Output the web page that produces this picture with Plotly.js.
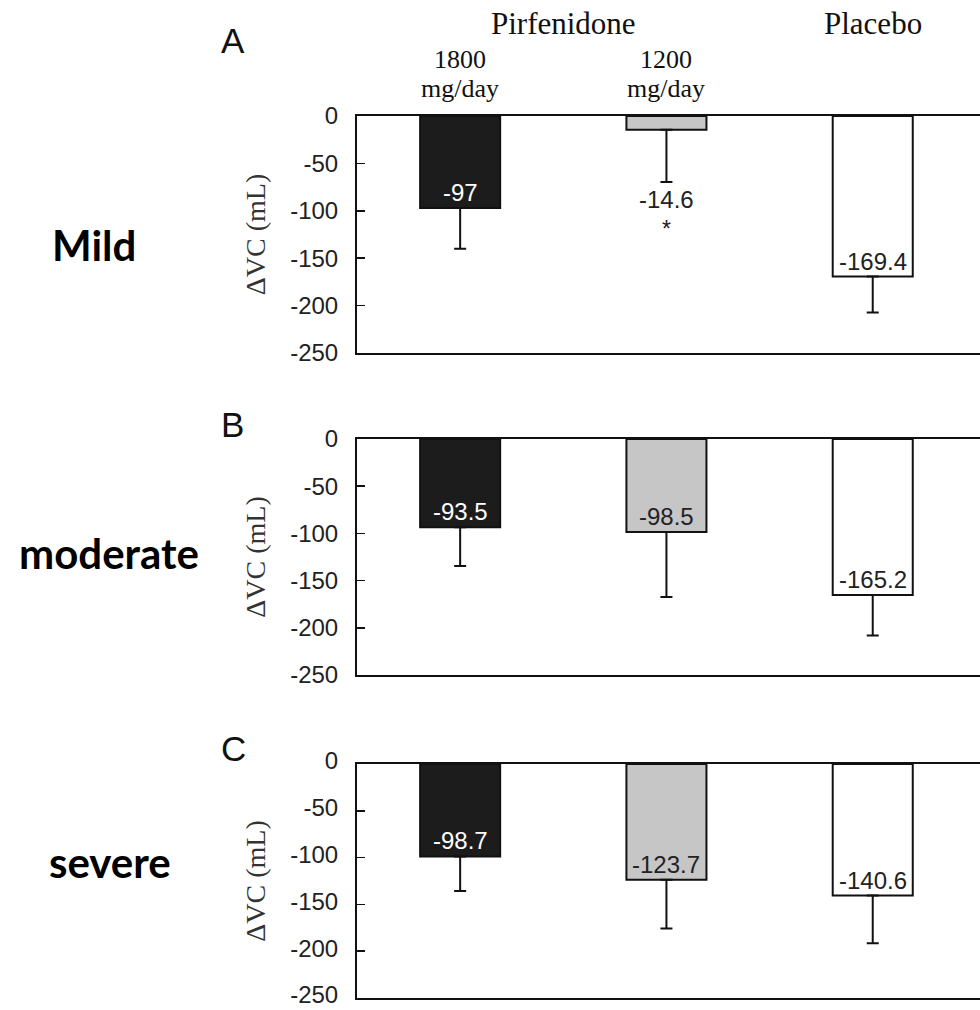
<!DOCTYPE html>
<html>
<head>
<meta charset="utf-8">
<script src="https://cdn.plot.ly/plotly-3.0.1.min.js"></script>
<style>html,body{margin:0;padding:0;background:#fff;}#chart{width:980px;height:1010px;}</style>
</head>
<body>
<div id="chart"></div>
<script>
// ---- data ----
var categories = ['1800 mg/day', '1200 mg/day', 'Placebo'];
var panelLetters = ['A', 'B', 'C'];
var rowLabels = ['Mild', 'moderate', 'severe'];
var mildValues = [-97, -14.6, -169.4];
var mildErrors = [43, 55, 38];
var moderateValues = [-93.5, -98.5, -165.2];
var moderateErrors = [41, 69, 43];
var severeValues = [-98.7, -123.7, -140.6];
var severeErrors = [37, 52, 51];
var valueLabels = [
  ['-97', '-14.6', '-169.4'],
  ['-93.5', '-98.5', '-165.2'],
  ['-98.7', '-123.7', '-140.6']
];
var yTickVals = [0, -50, -100, -150, -200, -250];
var yTickText = ['0', '-50', '-100', '-150', '-200', '-250'];
var headerGroup = 'Pirfenidone';
var headerPlacebo = 'Placebo';
var doseLines = [['1800', 'mg/day'], ['1200', 'mg/day']];
var significanceMark = '*';

// ---- styling ----
var barColors = ['#1c1c1c', '#c6c6c6', '#ffffff'];
var labelColors = ['#ffffff', '#222222', '#222222'];
var sans = 'Liberation Sans, Arial, sans-serif';
var serif = 'Liberation Serif, Times New Roman, serif';

var allValues = [mildValues, moderateValues, severeValues];
var allErrors = [mildErrors, moderateErrors, severeErrors];

var W = 980, H = 1010;
var mL = 357, mR = 0, mT = 116, mB = 12;
var plotH = H - mT - mB;
function py(px) { return (H - mB - px) / plotH; }
function px2x(px) { return (px - mL) / (W - mL - mR); }
var domains = [[py(353), 1], [py(675), py(439)], [py(998), py(764)]];
var labelShift = [0, 0, -3];

var traces = [];
var layout = {
  width: W, height: H,
  margin: {l: mL, r: mR, t: mT, b: mB},
  paper_bgcolor: '#ffffff', plot_bgcolor: '#ffffff',
  showlegend: false,
  font: {family: sans, color: '#222'},
  annotations: []
};

for (var p = 0; p < 3; p++) {
  var sfx = p === 0 ? '' : String(p + 1);
  traces.push({
    type: 'bar',
    x: categories,
    y: allValues[p],
    xaxis: 'x' + sfx, yaxis: 'y' + sfx,
    width: 0.388,
    marker: {color: barColors, line: {color: '#111', width: 2}},
    error_y: {type: 'data', symmetric: false, array: [0, 0, 0], arrayminus: allErrors[p],
              color: '#111', thickness: 2, width: 6},
    hoverinfo: 'x+y'
  });
  layout['xaxis' + sfx] = {
    type: 'category', range: [-0.5, 2.52], anchor: 'y' + sfx,
    showline: true, mirror: true, linecolor: '#111', linewidth: 2,
    showticklabels: false, ticks: '', showgrid: false, zeroline: false, fixedrange: true
  };
  layout['yaxis' + sfx] = {
    domain: domains[p], anchor: 'x' + sfx, range: [-250, 0],
    tickvals: yTickVals, ticktext: yTickText,
    ticks: 'inside', ticklen: 8, tickwidth: 1.5, tickcolor: '#111',
    ticklabelstandoff: 12, ticklabeloverflow: 'allow', ticklabelshift: labelShift[p],
    tickfont: {family: sans, size: 24, color: '#222'},
    showline: true, linecolor: '#111', linewidth: 2, mirror: false,
    showgrid: false, zeroline: false, fixedrange: true,
    title: {text: '\u0394VC (mL)', font: {family: serif, size: 28, color: '#333'}, standoff: 16}
  };
  // value labels
  for (var i = 0; i < 3; i++) {
    var v = allValues[p][i];
    var e = allErrors[p][i];
    var outside = (p === 0 && i === 1);
    layout.annotations.push({
      xref: 'x' + sfx, yref: 'y' + sfx,
      x: categories[i],
      y: outside ? v - e : v,
      yanchor: outside ? 'top' : 'bottom',
      yshift: outside ? -2 : 0,
      text: valueLabels[p][i], showarrow: false,
      font: {family: sans, size: 24, color: outside ? '#222' : labelColors[i]}
    });
    if (outside) {
      layout.annotations.push({
        xref: 'x' + sfx, yref: 'y' + sfx,
        x: categories[i], y: v - e, yanchor: 'top', yshift: -32,
        text: significanceMark, showarrow: false,
        font: {family: sans, size: 23, color: '#222'}
      });
    }
  }
}

// panel letters
var letterY = [40, 425, 748];
for (var k = 0; k < 3; k++) {
  layout.annotations.push({
    xref: 'paper', yref: 'paper', x: px2x(219), y: py(letterY[k]),
    xanchor: 'left', yanchor: 'middle', text: panelLetters[k], showarrow: false,
    font: {family: sans, size: 35, color: '#111'}
  });
}
// row labels
var rowX = [50, 17, 47];
var rowY = [245, 553, 862];
for (var r = 0; r < 3; r++) {
  layout.annotations.push({
    xref: 'paper', yref: 'paper', x: px2x(rowX[r]), y: py(rowY[r]),
    xanchor: 'left', yanchor: 'middle', text: '<b>' + rowLabels[r] + '</b>', showarrow: false,
    font: {family: 'Lato, Carlito, Calibri, sans-serif', size: 42, color: '#000'}
  });
}
// headers
layout.annotations.push({
  xref: 'x', yref: 'paper', x: 0.5, y: py(24), yanchor: 'middle',
  text: headerGroup, showarrow: false, font: {family: serif, size: 31, color: '#111'}
});
layout.annotations.push({
  xref: 'x', yref: 'paper', x: 2, y: py(24), yanchor: 'middle',
  text: headerPlacebo, showarrow: false, font: {family: serif, size: 31, color: '#111'}
});
for (var d = 0; d < 2; d++) {
  layout.annotations.push({
    xref: 'x', yref: 'paper', x: d, y: py(74), yanchor: 'middle',
    text: '<span style="font-size:26px">' + doseLines[d][0] + '</span><br>' +
          '<span style="font-size:26px">' + doseLines[d][1] + '</span>',
    showarrow: false, font: {family: serif, size: 22.5, color: '#111'}
  });
}

Plotly.newPlot('chart', traces, layout, {staticPlot: true, displayModeBar: false});
</script>
</body>
</html>
